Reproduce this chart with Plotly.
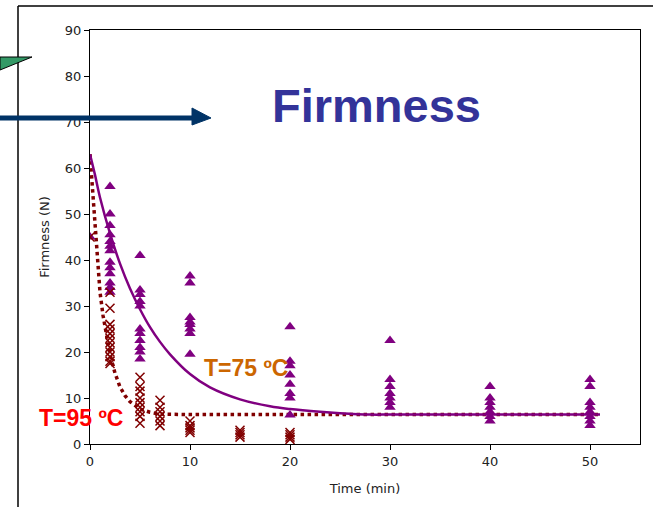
import plotly.graph_objects as go

# ---- data ----
t75_times = [0, 2, 2, 2, 2, 2, 2, 2, 2, 2, 2, 2, 2, 2,
             5, 5, 5, 5, 5, 5, 5, 5, 5, 5, 5,
             10, 10, 10, 10, 10, 10, 10, 10,
             20, 20, 20, 20, 20, 20, 20, 20,
             30, 30, 30, 30, 30, 30, 30,
             40, 40, 40, 40, 40, 40, 40,
             50, 50, 50, 50, 50, 50, 50, 50]
t75_firm = [45, 56, 50, 47.5, 45.5, 44, 43, 42, 39.5, 38.3, 37, 35, 34, 33,
            41, 33.5, 32.5, 31, 30, 25, 24, 22.5, 21, 20, 18.5,
            36.5, 35, 27.5, 26.5, 26, 25, 24, 19.5,
            25.5, 18, 17, 15, 13, 11, 10, 6.3,
            22.5, 14, 12.5, 11, 10, 9, 8,
            12.5, 10, 9, 8, 7, 6, 5,
            14, 12.5, 9, 8, 7, 6, 5, 4]

t95_times = [0, 2, 2, 2, 2, 2, 2, 2, 2, 2, 2, 2, 2,
             5, 5, 5, 5, 5, 5, 5, 5, 5,
             7, 7, 7, 7, 7, 7,
             10, 10, 10, 10, 10,
             15, 15, 15, 15,
             20, 20, 20, 20]
t95_firm = [45, 33, 29.5, 26, 25, 24, 23, 22, 21, 20, 19, 18, 17.5,
            14.5, 12.5, 11.5, 10, 9, 8, 7, 6, 4.5,
            9.5, 8, 7, 6, 5, 4,
            5, 4, 3.5, 3, 2.5,
            3, 2.5, 2, 1.5,
            2.5, 2, 1.5, 1]

fit75_t = [0, 0.5, 1, 2, 3, 4, 5, 6, 7, 8, 10, 12, 15, 18, 20, 23, 25, 28, 30, 35, 40, 45, 51]
fit75_f = [63, 58.5, 53.6, 45.8, 39.2, 33.8, 29.3, 25.4, 22.2, 19.5, 15.2, 12.3, 9.7, 8.2,
           7.6, 7.0, 6.7, 6.4, 6.4, 6.4, 6.4, 6.4, 6.4]

fit95_t = [0, 0.2, 0.4, 0.6, 0.8, 1, 1.3, 1.6, 2, 2.5, 3, 3.5, 4, 5, 6, 7, 10, 20, 30, 40, 51]
fit95_f = [63, 56.5, 50, 44, 37.5, 33, 28, 24, 19.5, 15.4, 12.4, 10.5, 9.2, 7.6, 6.9, 6.5,
           6.4, 6.4, 6.4, 6.4, 6.4]

x_ticks = [0, 10, 20, 30, 40, 50]
y_ticks = [0, 10, 20, 30, 40, 50, 60, 70, 80, 90]

PURPLE = "#800080"
DARKRED = "#800000"

fig = go.Figure()
fig.add_trace(go.Scatter(x=fit95_t, y=fit95_f, mode="lines",
                         line=dict(color=DARKRED, width=3.5, dash="dot"),
                         hoverinfo="skip", showlegend=False))
fig.add_trace(go.Scatter(x=fit75_t, y=fit75_f, mode="lines",
                         line=dict(color=PURPLE, width=2.5, shape="spline"),
                         hoverinfo="skip", showlegend=False))
fig.add_trace(go.Scatter(x=t75_times, y=t75_firm, mode="markers",
                         marker=dict(symbol="triangle-up", size=10, color=PURPLE),
                         showlegend=False))
fig.add_trace(go.Scatter(x=t95_times, y=t95_firm, mode="markers",
                         marker=dict(symbol="x-thin", size=9,
                                     line=dict(color=DARKRED, width=1.5)),
                         showlegend=False))

W, H = 653, 507
L, R, T, B = 90, 13, 30, 63
PW, PH = W - L - R, H - T - B


def px(x):
    return (x - L) / PW


def py(y):
    return (H - B - y) / PH


shapes = [
    # outer frame (top and left)
    dict(type="line", xref="paper", yref="paper", x0=px(18), y0=py(6), x1=px(653), y1=py(6),
         line=dict(color="black", width=1.5)),
    dict(type="line", xref="paper", yref="paper", x0=px(18), y0=py(6), x1=px(18), y1=py(507),
         line=dict(color="black", width=1.5)),
    # green callout tip
    dict(type="path", xref="paper", yref="paper",
         path=f"M {px(0)} {py(57)} L {px(32)} {py(57)} L {px(0)} {py(70)} Z",
         fillcolor="#339966", line=dict(color="black", width=1)),
    # blue arrow
    dict(type="line", xref="paper", yref="paper", x0=px(0), y0=py(118), x1=px(194), y1=py(118),
         line=dict(color="#003366", width=5)),
    dict(type="path", xref="paper", yref="paper",
         path=f"M {px(192)} {py(108)} L {px(211)} {py(118)} L {px(192)} {py(125)} Z",
         fillcolor="#003366", line=dict(color="#003366", width=1)),
]

annotations = [
    dict(text="<b>Firmness</b>", xref="paper", yref="paper", x=px(376), y=py(105),
         xanchor="center", yanchor="middle", showarrow=False,
         font=dict(family="Liberation Sans", size=47, color="#333399")),
    dict(text="<b>T=75 ºC</b>", xref="paper", yref="paper", x=px(246), y=py(368),
         xanchor="center", yanchor="middle", showarrow=False,
         font=dict(family="Liberation Sans", size=23, color="#CC6600")),
    dict(text="<b>T=95 ºC</b>", xref="paper", yref="paper", x=px(81), y=py(418),
         xanchor="center", yanchor="middle", showarrow=False,
         font=dict(family="Liberation Sans", size=23, color="#FF0000")),
]

fig.update_layout(
    width=W, height=H,
    margin=dict(l=L, r=R, t=T, b=B, pad=0),
    paper_bgcolor="white", plot_bgcolor="white",
    shapes=shapes, annotations=annotations,
    font=dict(family="DejaVu Sans", color="#222222"),
    xaxis=dict(range=[0, 55], tickvals=x_ticks, showgrid=False, zeroline=False,
               showline=True, linecolor="black", linewidth=1, mirror=True,
               ticks="outside", ticklen=5, tickcolor="black",
               tickfont=dict(size=13),
               title=dict(text="Time (min)", font=dict(size=13), standoff=16)),
    yaxis=dict(range=[0, 90], tickvals=y_ticks, showgrid=False, zeroline=False,
               showline=True, linecolor="black", linewidth=1, mirror=True,
               ticks="outside", ticklen=5, tickcolor="black",
               tickfont=dict(size=13),
               title=dict(text="Firmness (N)", font=dict(size=13), standoff=12)),
)

fig.write_html("out.html", config={"displayModeBar": False},
               post_script="document.body.style.margin='0';document.body.style.overflow='hidden';")
